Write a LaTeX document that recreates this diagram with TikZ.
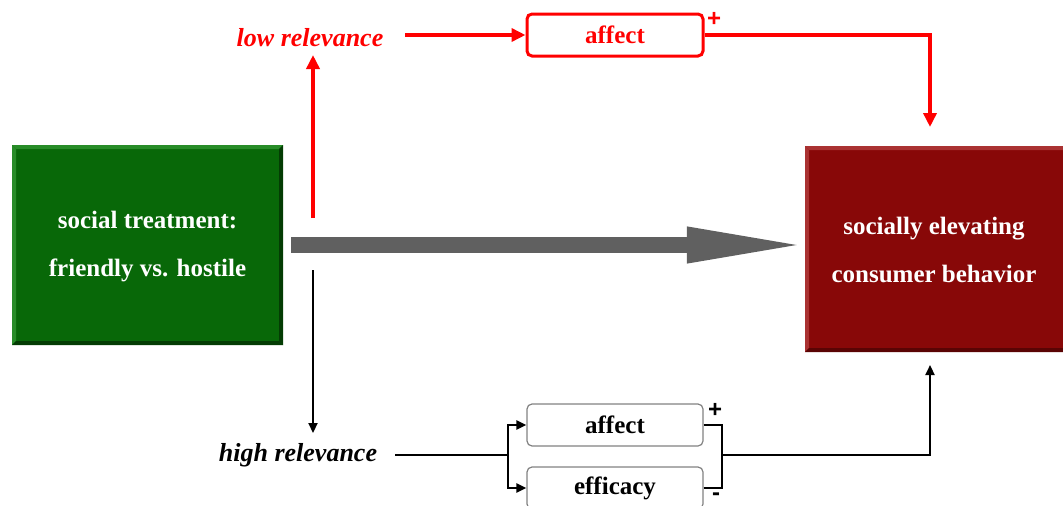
\documentclass[tikz,border=0pt]{standalone}
\usepackage{fontspec}
\setmainfont{Liberation Serif}
\newfontfamily\signfont{Liberation Sans}
\usetikzlibrary{arrows.meta,calc}
\definecolor{boxgreen}{RGB}{8,104,8}
\definecolor{greenlight}{RGB}{40,140,40}
\definecolor{greendark}{RGB}{4,60,4}
\definecolor{boxred}{RGB}{136,8,8}
\definecolor{redlight}{RGB}{170,50,50}
\definecolor{reddark}{RGB}{90,4,4}
\definecolor{arrowgray}{RGB}{96,96,96}
\definecolor{boxgrayline}{RGB}{130,130,130}
\definecolor{hred}{RGB}{255,0,0}
\begin{document}
\begin{tikzpicture}[x=1pt,y=-1pt,
  bigbox/.style={inner sep=0pt,text=white,align=center,
    font=\fontsize{25}{48}\selectfont\bfseries},
  smallbox/.style={draw,rounded corners=5pt,minimum width=176pt,minimum height=42pt,
    inner sep=0pt,fill=white,font=\fontsize{25}{28}\selectfont\bfseries},
  rellabel/.style={font=\fontsize{26}{28}\selectfont\bfseries\itshape,inner sep=0pt},
  signlabel/.style={font=\signfont\fontsize{24}{24}\selectfont\bfseries,inner sep=0pt},
  redline/.style={hred,line width=3.5pt},
  blackline/.style={black,line width=2.2pt},
  redtip/.style={-{Triangle[length=14pt,width=13pt]}},
  blacktip/.style={-{Triangle[length=10pt,width=9pt]}}
]
\useasboundingbox (0,0) rectangle (1063,506);

% big boxes with bevel
\fill[boxgreen] (12,145) rectangle (283,345);
\fill[greenlight] (12,145) -- (283,145) -- (279,149) -- (16,149) -- cycle;
\fill[greenlight] (12,145) -- (16,149) -- (16,341) -- (12,345) -- cycle;
\fill[greendark] (283,145) -- (283,345) -- (279,341) -- (279,149) -- cycle;
\fill[greendark] (12,345) -- (283,345) -- (279,341) -- (16,341) -- cycle;
\node[bigbox,minimum width=271pt,minimum height=200pt] (src) at (147.5,247)
  {social treatment:\\friendly vs. hostile};

\fill[boxred] (805,146) rectangle (1063,352);
\fill[redlight] (805,146) -- (1063,146) -- (1063,150) -- (809,150) -- cycle;
\fill[redlight] (805,146) -- (809,150) -- (809,348) -- (805,352) -- cycle;
\fill[reddark] (805,352) -- (1063,352) -- (1063,348) -- (809,348) -- cycle;
\node[bigbox,minimum width=258pt,minimum height=206pt] (dst) at (934,250)
  {socially elevating\\consumer behavior};

% main gray arrow
\draw[arrowgray,line width=16pt,shorten <=8pt,shorten >=-7pt,
  -{Triangle[length=125pt,width=32pt]}] (src.east |- 0,245) -- (dst.west |- 0,245);

% low relevance path (red)
\node[rellabel,text=hred] (low) at (310,38) {low relevance};
\node[smallbox,draw=hred,line width=3pt,text=hred] (aff1) at (615,35) {affect};
\node[signlabel,text=hred] (p1) at (714,19) {+};
\coordinate (redstart) at (313,218);
\coordinate (lowtip) at (313,55);
\coordinate (lowout) at (405,35);
\coordinate (redend) at (930,127);
\draw[redline,redtip] (redstart) -- (lowtip);
\draw[redline,redtip] (lowout) -- (aff1.west);
\draw[redline,redtip] (aff1.east) -| (redend);

% high relevance path (black)
\node[rellabel] (high) at (298,455) {high relevance};
\node[smallbox,draw=boxgrayline,line width=1.2pt] (aff2) at (615,425) {affect};
\node[smallbox,draw=boxgrayline,line width=1.2pt] (eff) at (615,488) {efficacy};
\node[signlabel] (p2) at (715,410) {+};
\node[signlabel] (m2) at (716,497) {-};
\coordinate (blackstart) at (313,270);
\coordinate (hightip) at (313,433);
\coordinate (highout) at (395,455);
\coordinate (split) at (508,455);
\coordinate (join) at (722,455);
\coordinate (blackend) at (930,365);
\draw[blackline,blacktip] (blackstart) -- (hightip);
\draw[blackline] (highout) -- (split);
\draw[blackline,blacktip] (split) |- (aff2.west);
\draw[blackline,blacktip] (split) |- (eff.west);
\draw[blackline] (aff2.east) -| (join);
\draw[blackline] (eff.east) -| (join);
\draw[blackline,blacktip] (join) -| (blackend);
\end{tikzpicture}
\end{document}
